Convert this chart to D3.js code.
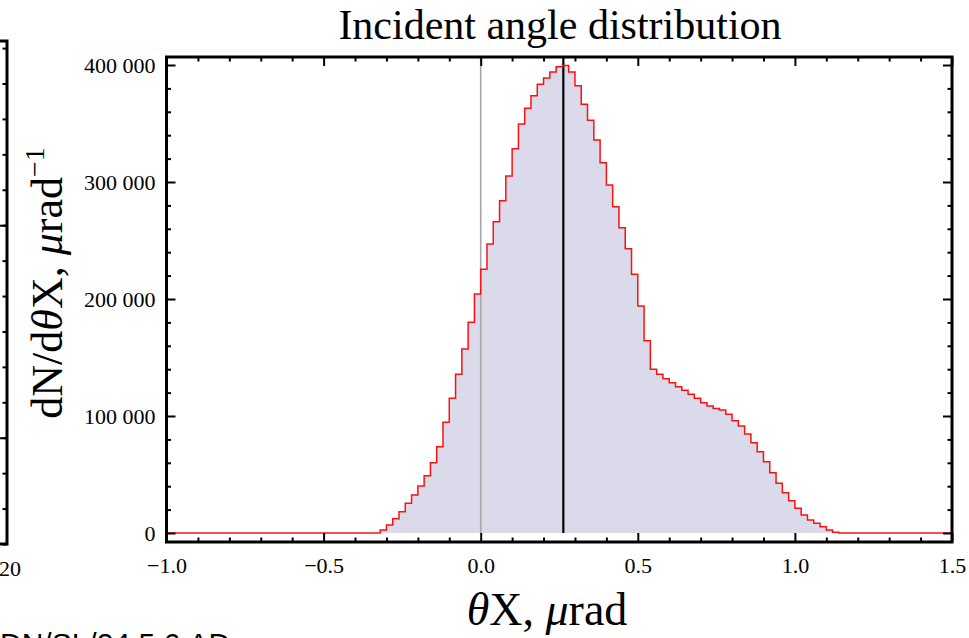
<!DOCTYPE html>
<html><head><meta charset="utf-8">
<script src="https://cdn.jsdelivr.net/npm/d3@7/dist/d3.min.js"></script>
<style>
html,body{margin:0;padding:0;background:#fff;}
svg{display:block;}
text{font-family:"Liberation Serif","Times New Roman",serif;fill:#000;}
</style></head>
<body>
<svg id="chart" width="969" height="638"></svg>
<script>
// ---------- data ----------
const binEdges = [-0.32,-0.30,-0.28,-0.26,-0.24,-0.22,-0.20,-0.18,-0.16,-0.14,-0.12,-0.10,-0.08,-0.06,-0.04,-0.02,
  0.00,0.02,0.04,0.06,0.08,0.10,0.12,0.14,0.16,0.18,0.20,0.22,0.24,0.26,0.28,0.30,0.32,0.34,0.36,0.38,
  0.40,0.42,0.44,0.46,0.48,0.50,0.52,0.54,0.56,0.58,0.60,0.62,0.64,0.66,0.68,0.70,0.72,0.74,0.76,0.78,
  0.80,0.82,0.84,0.86,0.88,0.90,0.92,0.94,0.96,0.98,1.00,1.02,1.04,1.06,1.08,1.10,1.12,1.14];
const counts = [2600,6800,12200,18200,25400,32500,40200,49000,60100,73800,94600,115100,135600,157300,180100,204300,
  225400,247000,266000,284000,305100,328500,349600,363000,373800,383500,388900,394000,398600,399500,394000,382300,366400,352700,335900,316500,
  297500,278900,261000,243000,221100,194000,164400,139900,135600,131900,128500,125000,122000,118500,115100,111400,108500,106500,105100,101400,
  96000,91500,84600,77200,69500,60900,51500,42500,34400,27600,21100,15400,11100,8300,5400,2600,600];
const meanAngle = 0.263;
const zeroLine = 0;
const xDomain = [-1.0, 1.5];
const yDomain = [0, 400000];
const xMajorTicks = [-1.0,-0.5,0.0,0.5,1.0,1.5];
const xMinorTicks = [-0.9,-0.8,-0.7,-0.6,-0.4,-0.3,-0.2,-0.1,0.1,0.2,0.3,0.4,0.6,0.7,0.8,0.9,1.1,1.2,1.3,1.4];
const yMajorTicks = [0,100000,200000,300000,400000];
const yMinorTicks = [20000,40000,60000,80000,120000,140000,160000,180000,220000,240000,260000,280000,320000,340000,360000,380000];
const titleText = "Incident angle distribution";
// neighbouring (cropped) panel
const leftPanelTicks = [0,1,2,3,4,5,6,7,8,9,10,11,12,13,14];
const leftPanelMajor = [3,9];
const leftPanelLabel = "20";
const footerText = "DN/SL/24.5.6.AD";

// ---------- layout ----------
const svg = d3.select("#chart");
const frame = {l:166.5, r:952, t:57, b:542};
const x = d3.scaleLinear().domain(xDomain).range([frame.l, frame.r]);
const y = d3.scaleLinear().domain(yDomain).range([533, 65]);

// fill
const pts = binEdges.map((e,i)=>[e, i<counts.length ? counts[i] : 0]);
const area = d3.area().curve(d3.curveStepAfter)
  .x(d=>x(d[0])).y0(y(0)).y1(d=>y(d[1]));
svg.append("path").attr("d", area(pts)).attr("fill","rgb(218,218,235)");

// reference lines
svg.append("line").attr("x1",x(zeroLine)).attr("x2",x(zeroLine)).attr("y1",y(0)).attr("y2",frame.t)
  .attr("stroke","#a6a6a6").attr("stroke-width",1.6);
svg.append("line").attr("x1",x(meanAngle)).attr("x2",x(meanAngle)).attr("y1",y(0)).attr("y2",frame.t)
  .attr("stroke","#000").attr("stroke-width",2.2);

// step outline
const linePts = [[xDomain[0],0]].concat(pts).concat([[xDomain[1],0]]);
const line = d3.line().curve(d3.curveStepAfter).x(d=>x(d[0])).y(d=>y(d[1]));
svg.append("path").attr("d", line(linePts)).attr("fill","none")
  .attr("stroke","#ff1010").attr("stroke-width",1.5);

// axes (inward ticks on all four sides)
const fmtY = d3.formatLocale({decimal:".", thousands:" ", grouping:[3], currency:["",""], minus:"\u2212"}).format(",d");
const fmtX = d3.format(".1f");
function styleAxis(g){ g.select(".domain").remove(); g.selectAll("line").attr("stroke","#000").attr("stroke-width",2);
  g.selectAll("text").style("font-family",'"Liberation Serif",serif').style("font-size","22px").attr("fill","#000"); }

svg.append("g").attr("transform",`translate(0,${frame.b})`)
  .call(d3.axisBottom(x).tickValues(xMajorTicks).tickSize(-9).tickPadding(15).tickFormat(fmtX)).call(styleAxis);
svg.append("g").attr("transform",`translate(0,${frame.b})`)
  .call(d3.axisBottom(x).tickValues(xMinorTicks).tickSize(-4.5).tickFormat("")).call(styleAxis);
svg.append("g").attr("transform",`translate(0,${frame.t})`)
  .call(d3.axisTop(x).tickValues(xMajorTicks).tickSize(-9).tickFormat("")).call(styleAxis);
svg.append("g").attr("transform",`translate(0,${frame.t})`)
  .call(d3.axisTop(x).tickValues(xMinorTicks).tickSize(-4.5).tickFormat("")).call(styleAxis);

svg.append("g").attr("transform",`translate(${frame.l},0)`)
  .call(d3.axisLeft(y).tickValues(yMajorTicks).tickSize(-9).tickPadding(11).tickFormat(fmtY)).call(styleAxis);
svg.append("g").attr("transform",`translate(${frame.l},0)`)
  .call(d3.axisLeft(y).tickValues(yMinorTicks).tickSize(-4.5).tickFormat("")).call(styleAxis);
svg.append("g").attr("transform",`translate(${frame.r},0)`)
  .call(d3.axisRight(y).tickValues(yMajorTicks).tickSize(-9).tickFormat("")).call(styleAxis);
svg.append("g").attr("transform",`translate(${frame.r},0)`)
  .call(d3.axisRight(y).tickValues(yMinorTicks).tickSize(-4.5).tickFormat("")).call(styleAxis);

// frame
svg.append("rect").attr("x",frame.l).attr("y",frame.t).attr("width",frame.r-frame.l).attr("height",frame.b-frame.t)
  .attr("fill","none").attr("stroke","#000").attr("stroke-width",3);

// title
svg.append("text").attr("x",560).attr("y",39).attr("text-anchor","middle")
  .style("font-size","42px").text(titleText);

// x label
const xl = svg.append("text").attr("x",547).attr("y",625).attr("text-anchor","middle").style("font-size","46px");
xl.append("tspan").style("font-style","italic").text("\u03b8");
xl.append("tspan").text("X, ");
xl.append("tspan").style("font-style","italic").text("\u03bc");
xl.append("tspan").text("rad");

// y label
const yl = svg.append("text").attr("transform","translate(62,283) rotate(-90)").attr("text-anchor","middle").style("font-size","44px");
yl.append("tspan").text("dN/d");
yl.append("tspan").style("font-style","italic").text("\u03b8");
yl.append("tspan").text("X, ");
yl.append("tspan").style("font-style","italic").text("\u03bc");
yl.append("tspan").text("rad");
yl.append("tspan").attr("dy",-18).style("font-size","28px").text("\u22121");

// neighbouring cropped panel on the left
const ly = d3.scaleLinear().domain([0,14.2]).range([544,41]);
svg.append("path").attr("d",`M-10,${ly(14.2)}H7V${ly(0)}H-10`).attr("fill","none").attr("stroke","#000").attr("stroke-width",3);
svg.append("g").attr("transform","translate(7,0)")
  .call(d3.axisRight(ly).tickValues(leftPanelTicks).tickSize(-4.5).tickFormat("")).call(styleAxis);
svg.append("g").attr("transform","translate(7,0)")
  .call(d3.axisRight(ly).tickValues(leftPanelMajor).tickSize(-9).tickFormat("")).call(styleAxis);
svg.append("text").attr("x",-1).attr("y",576).style("font-size","22px").text(leftPanelLabel);
svg.append("text").attr("x",0).attr("y",654).style("font-family",'"Liberation Sans",Arial,sans-serif')
  .style("font-size","30px").attr("fill","#222").text(footerText);
</script>
</body></html>
